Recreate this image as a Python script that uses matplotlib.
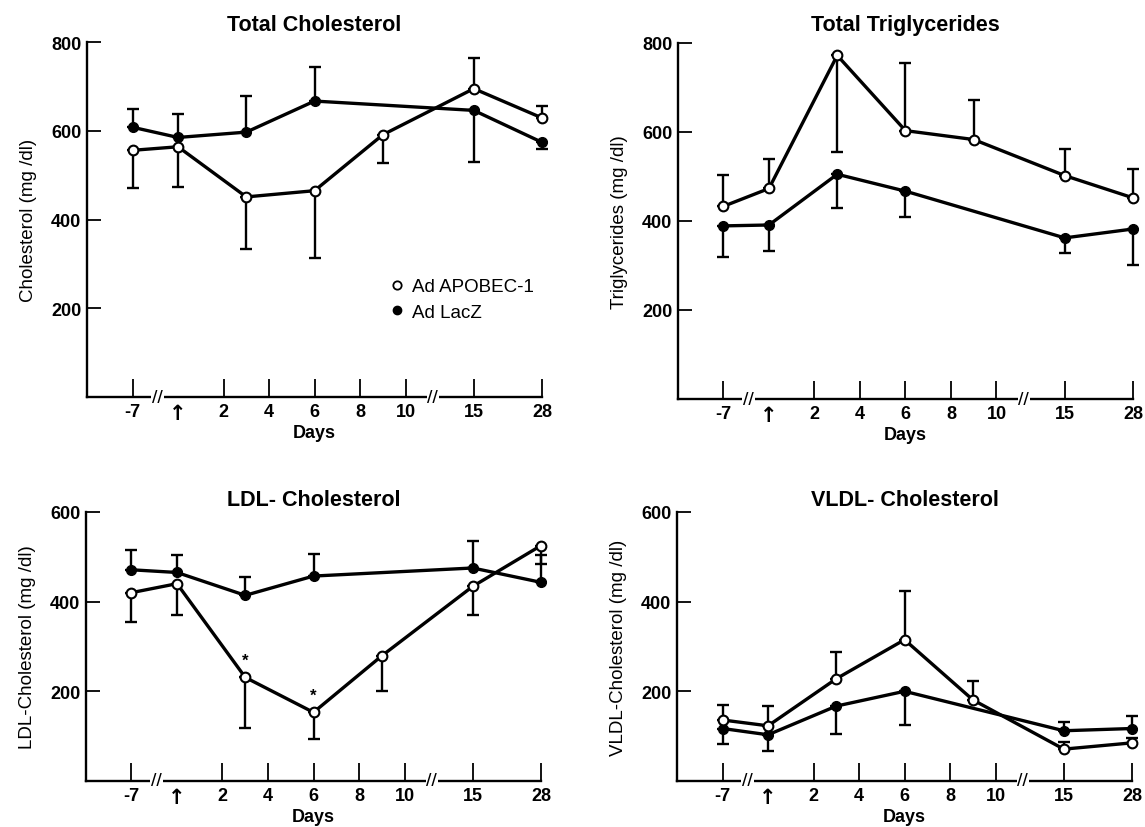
"""Lipid time courses after Ad APOBEC-1 / Ad LacZ injection (4 panels)."""
import numpy as np
import matplotlib

matplotlib.use("Agg")
import matplotlib.pyplot as plt
from matplotlib.lines import Line2D

plt.rcParams["font.family"] = ["Liberation Sans", "DejaVu Sans"]

# ---- data -----------------------------------------------------------------
days_apo = [-7, 0, 3, 6, 9, 15, 28]
days_lacz = [-7, 0, 3, 6, 15, 28]

# signed SD: >0 bar drawn upward, <0 bar drawn downward
tc_apo = [556, 564, 451, 465, 591, 695, 629]
tc_apo_err = [-85, -91, -117, -151, -64, 70, 26]
tc_lacz = [608, 585, 597, 667, 646, 574]
tc_lacz_err = [42, 52, 82, 77, -117, -16]

tg_apo = [433, 473, 772, 603, 583, 502, 452]
tg_apo_err = [70, 66, -217, 153, 89, 59, 65]
tg_lacz = [389, 391, 505, 467, 362, 382]
tg_lacz_err = [-70, -58, -75, -59, -33, -82]

ldl_apo = [420, 440, 231, 153, 279, 434, 525]
ldl_apo_err = [-65, -70, -112, -59, -78, -64, -40]
ldl_lacz = [471, 465, 414, 457, 475, 443]
ldl_lacz_err = [45, 40, 41, 50, 61, 61]
ldl_star_days = [3, 6]

vldl_apo = [136, 123, 228, 315, 181, 71, 85]
vldl_apo_err = [34, 44, 60, 108, 41, 16, 10]
vldl_lacz = [117, 103, 167, 200, 112, 117]
vldl_lacz_err = [-34, -36, -62, -76, 20, 29]

tick_days = [-7, 0, 2, 4, 6, 8, 10, 15, 28]
tick_labels = ["-7", "\u2191", "2", "4", "6", "8", "10", "15", "28"]
break_days = [-3.15, 12]

# broken, piecewise-linear day axis
_DAY_KNOTS = [-14, -7, 0, 10, 15, 28, 41]
_POS_KNOTS = [-1, 0, 1, 6, 7.5, 9, 10]


def _fwd(d):
    return np.interp(d, _DAY_KNOTS, _POS_KNOTS)


def _inv(p):
    return np.interp(p, _POS_KNOTS, _DAY_KNOTS)


def _errbars(ax, x, y, err):
    x = np.asarray(x, float)
    y = np.asarray(y, float)
    e = np.asarray(err, float)
    m = e != 0
    lower = np.where(e < 0, -e, 0)[m]
    upper = np.where(e > 0, e, 0)[m]
    ax.errorbar(x[m], y[m], yerr=[lower, upper], fmt="none", ecolor="black",
                elinewidth=1.7, capsize=4.5, capthick=1.7, zorder=2, clip_on=False)


def draw_panel(ax, title, ylabel, ymax, apo, apo_err, lacz, lacz_err, title_pad):
    ax.set_xscale("function", functions=(_fwd, _inv))
    _errbars(ax, days_apo, apo, apo_err)
    _errbars(ax, days_lacz, lacz, lacz_err)
    ax.plot(days_lacz, lacz, color="black", lw=2.4, marker="o", ms=7,
            mfc="black", mec="black", zorder=3, clip_on=False)
    ax.plot(days_apo, apo, color="black", lw=2.4, marker="o", ms=7,
            mfc="white", mec="black", mew=1.5, zorder=4, clip_on=False)

    ax.set_xlim(-14, 28)
    ax.set_ylim(0, ymax)
    ax.set_xticks(tick_days)
    ax.set_xticklabels(tick_labels, fontsize=13, fontweight="bold")
    arrow = ax.get_xticklabels()[1]
    arrow.set_fontfamily("DejaVu Sans")
    arrow.set_fontsize(15)
    ax.xaxis.get_major_ticks()[1].tick1line.set_visible(False)
    yt = list(range(200, ymax + 1, 200))
    ax.set_yticks(yt)
    ax.set_yticklabels([str(v) for v in yt], fontsize=13, fontweight="bold")
    ax.tick_params(axis="x", direction="in", length=13, width=1.3, pad=4)
    ax.tick_params(axis="y", direction="in", length=10, width=1.3, pad=4)

    for side in ("top", "right"):
        ax.spines[side].set_visible(False)
    for side in ("left", "bottom"):
        ax.spines[side].set_linewidth(1.7)

    for bd in break_days:
        ax.text(bd, 0, "//", ha="center", va="center", fontsize=14,
                bbox=dict(fc="white", ec="none", pad=0.5), clip_on=False, zorder=5)

    ax.set_title(title, fontsize=15.5, fontweight="bold", pad=title_pad)
    ax.set_ylabel(ylabel, fontsize=13.5, labelpad=10)
    ax.set_xlabel("Days", fontsize=13, fontweight="bold", labelpad=1)


fig = plt.figure(figsize=(11.45, 8.28), dpi=100)
ax1 = fig.add_axes([0.0760, 0.5193, 0.3974, 0.4287])
ax2 = fig.add_axes([0.5921, 0.5169, 0.3974, 0.4300])
ax3 = fig.add_axes([0.0751, 0.0556, 0.3974, 0.3249])
ax4 = fig.add_axes([0.5913, 0.0556, 0.3974, 0.3249])

draw_panel(ax1, "Total Cholesterol", "Cholesterol (mg /dl)", 800,
           tc_apo, tc_apo_err, tc_lacz, tc_lacz_err, 9)
draw_panel(ax2, "Total Triglycerides", "Triglycerides (mg /dl)", 800,
           tg_apo, tg_apo_err, tg_lacz, tg_lacz_err, 9)
draw_panel(ax3, "LDL- Cholesterol", "LDL-Cholesterol (mg /dl)", 600,
           ldl_apo, ldl_apo_err, ldl_lacz, ldl_lacz_err, 5)
draw_panel(ax4, "VLDL- Cholesterol", "VLDL-Cholesterol (mg /dl)", 600,
           vldl_apo, vldl_apo_err, vldl_lacz, vldl_lacz_err, 5)

# significance stars on LDL
for d in ldl_star_days:
    v = ldl_apo[days_apo.index(d)]
    ax3.annotate("*", (d, v), xytext=(0, 7), textcoords="offset points",
                 ha="center", va="bottom", fontsize=12, fontweight="bold")

handles = [
    Line2D([], [], ls="none", marker="o", ms=6, mfc="white", mec="black", mew=1.3),
    Line2D([], [], ls="none", marker="o", ms=6, mfc="black", mec="black"),
]
ax1.legend(handles, ["Ad APOBEC-1", "Ad LacZ"], loc="upper left",
           bbox_to_anchor=(0.668, 0.335), frameon=False, fontsize=13.5,
           handlelength=0.6, handletextpad=0.5, labelspacing=0.45,
           borderpad=0, borderaxespad=0)

fig.savefig("out.png", dpi=100)
plt.close(fig)
